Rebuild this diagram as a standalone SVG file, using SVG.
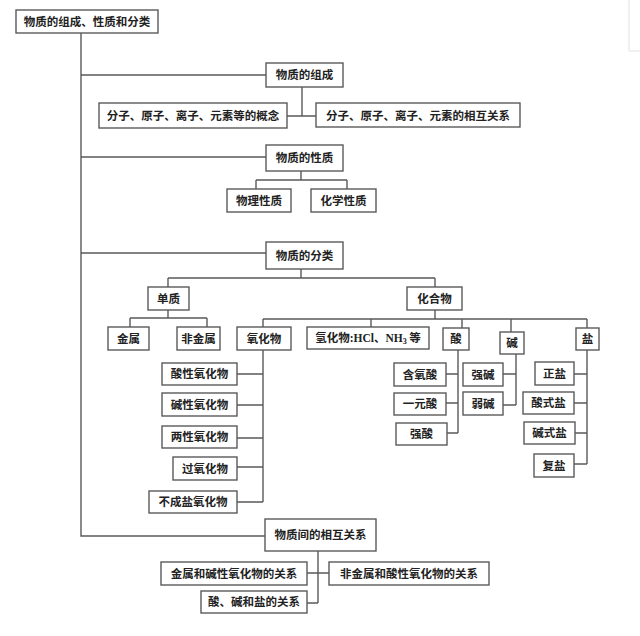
<svg xmlns="http://www.w3.org/2000/svg" width="640" height="636" viewBox="0 0 640 636">
<style>
.b{fill:#fff;stroke:#5a5a5a;stroke-width:1.4}
.t{font-family:"Noto Sans CJK SC","Noto Sans",sans-serif;font-size:11.5px;font-weight:bold;fill:#222;text-anchor:middle}
.c path{fill:none;stroke:#5a5a5a;stroke-width:1.4}
.l{font-family:"Liberation Serif","Noto Sans CJK SC",serif}
</style>
<rect width="640" height="636" fill="#fff"/>
<path d="M629 0V51H640" fill="none" stroke="#e2e2e2" stroke-width="1"/>
<g class="c" id="connectors">
<path d="M81 33V536H265"/>
<path d="M81 75H266M81 157H266M81 253H266"/>
<path d="M302 87V116M287 116H316"/>
<path d="M301 171V180M256 180H347M256 180V189M347 180V189"/>
<path d="M301 269V278M168 278H435M168 278V287M435 278V287"/>
<path d="M168 310V318M130 318H207M130 318V327M207 318V327"/>
<path d="M435 310V319M263 319H587M263 319V327M371 319V327M462 319V328M511 319V332M587 319V328"/>
<path d="M263 350V502M237 374H263M237 405H263M237 438H263M237 467H263M237 502H263"/>
<path d="M458 350V433M446 374H458M446 403H458M447 433H458"/>
<path d="M516 354V405M503 374H516M503 405H516"/>
<path d="M587 350V464M574 374H587M574 403H587M575 433H587M574 464H587"/>
<path d="M318 551V603M307 573H329M307 603H318"/>
</g>
<g id="root"><rect class="b" x="16" y="10" width="142" height="23"/><text class="t" x="87" y="26">物质的组成、性质和分类</text></g>
<g id="zucheng"><rect class="b" x="266" y="63" width="77" height="24"/><text class="t" x="304.5" y="79">物质的组成</text></g>
<g id="gainian"><rect class="b" x="99" y="103" width="188" height="25"/><text class="t" x="193" y="120">分子、原子、离子、元素等的概念</text></g>
<g id="guanxi1"><rect class="b" x="316" y="103" width="204" height="24"/><text class="t" x="418" y="119.5">分子、原子、离子、元素的相互关系</text></g>
<g id="xingzhi"><rect class="b" x="266" y="145" width="77" height="26"/><text class="t" x="304.5" y="162">物质的性质</text></g>
<g id="wuli"><rect class="b" x="227" y="189" width="64" height="23"/><text class="t" x="259" y="204.5">物理性质</text></g>
<g id="huaxue"><rect class="b" x="311" y="189" width="65" height="23"/><text class="t" x="343.5" y="204.5">化学性质</text></g>
<g id="fenlei"><rect class="b" x="266" y="242" width="77" height="27"/><text class="t" x="304.5" y="259.5">物质的分类</text></g>
<g id="danzhi"><rect class="b" x="148" y="287" width="41" height="23"/><text class="t" x="168.5" y="302.5">单质</text></g>
<g id="huahewu"><rect class="b" x="407" y="287" width="55" height="23"/><text class="t" x="434.5" y="302.5">化合物</text></g>
<g id="jinshu"><rect class="b" x="108" y="327" width="41" height="23"/><text class="t" x="128.5" y="342.5">金属</text></g>
<g id="feijinshu"><rect class="b" x="177" y="327" width="43" height="23"/><text class="t" x="198.5" y="342.5">非金属</text></g>
<g id="yanghuawu"><rect class="b" x="237" y="327" width="54" height="23"/><text class="t" x="264" y="342.5">氧化物</text></g>
<g id="qinghuawu"><rect class="b" x="307" y="327" width="122" height="22"/><text class="t" x="368" y="342">氢化物<tspan class="l">:HCl</tspan>、<tspan class="l">NH</tspan><tspan class="l" font-size="8" dy="2">3</tspan><tspan dy="-2"> 等</tspan></text></g>
<g id="suan"><rect class="b" x="443" y="328" width="26" height="22"/><text class="t" x="456" y="343">酸</text></g>
<g id="jian"><rect class="b" x="500" y="332" width="24" height="22"/><text class="t" x="512" y="347">碱</text></g>
<g id="yan"><rect class="b" x="576" y="328" width="23" height="22"/><text class="t" x="587.5" y="343">盐</text></g>
<g id="suanxing"><rect class="b" x="162" y="363" width="75" height="22"/><text class="t" x="199.5" y="378">酸性氧化物</text></g>
<g id="jianxing"><rect class="b" x="162" y="393" width="75" height="23"/><text class="t" x="199.5" y="408.5">碱性氧化物</text></g>
<g id="liangxing"><rect class="b" x="162" y="426" width="75" height="22"/><text class="t" x="199.5" y="441">两性氧化物</text></g>
<g id="guoyang"><rect class="b" x="173" y="457" width="64" height="23"/><text class="t" x="205" y="472.5">过氧化物</text></g>
<g id="buchengyan"><rect class="b" x="149" y="491" width="88" height="22"/><text class="t" x="193" y="506">不成盐氧化物</text></g>
<g id="hanyangsuan"><rect class="b" x="394" y="363" width="52" height="23"/><text class="t" x="420" y="378.5">含氧酸</text></g>
<g id="yiyuansuan"><rect class="b" x="394" y="393" width="52" height="22"/><text class="t" x="420" y="408">一元酸</text></g>
<g id="qiangsuan"><rect class="b" x="396" y="423" width="51" height="22"/><text class="t" x="421.5" y="438">强酸</text></g>
<g id="qiangjian"><rect class="b" x="463" y="363" width="40" height="23"/><text class="t" x="483" y="378.5">强碱</text></g>
<g id="ruojian"><rect class="b" x="463" y="392" width="40" height="23"/><text class="t" x="483" y="407.5">弱碱</text></g>
<g id="zhengyan"><rect class="b" x="535" y="362" width="39" height="23"/><text class="t" x="554.5" y="377.5">正盐</text></g>
<g id="suanshiyan"><rect class="b" x="523" y="392" width="51" height="22"/><text class="t" x="548.5" y="407">酸式盐</text></g>
<g id="jianshiyan"><rect class="b" x="524" y="422" width="51" height="22"/><text class="t" x="549.5" y="437">碱式盐</text></g>
<g id="fuyan"><rect class="b" x="534" y="454" width="40" height="23"/><text class="t" x="554" y="469.5">复盐</text></g>
<g id="xianghu"><rect class="b" x="265" y="519" width="111" height="32"/><text class="t" x="320.5" y="539">物质间的相互关系</text></g>
<g id="jinshuguanxi"><rect class="b" x="161" y="562" width="146" height="23"/><text class="t" x="234" y="577.5">金属和碱性氧化物的关系</text></g>
<g id="feijinshuguanxi"><rect class="b" x="329" y="562" width="160" height="23"/><text class="t" x="409" y="577.5">非金属和酸性氧化物的关系</text></g>
<g id="suanjianyan"><rect class="b" x="201" y="591" width="106" height="22"/><text class="t" x="254" y="606">酸、碱和盐的关系</text></g>
</svg>
